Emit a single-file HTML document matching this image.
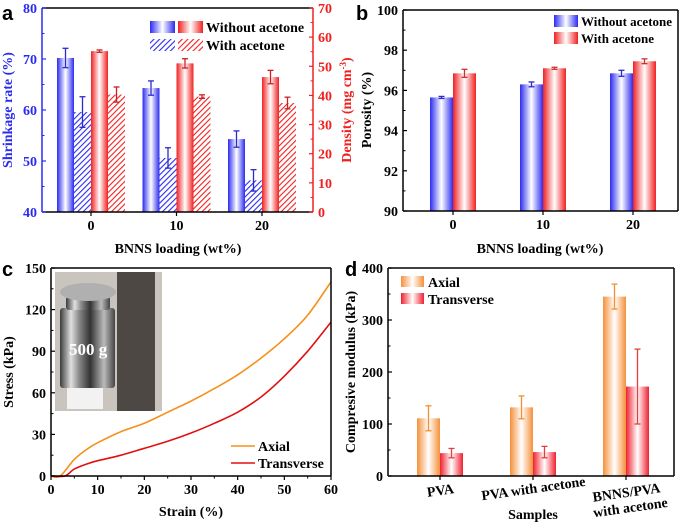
<!DOCTYPE html>
<html><head><meta charset="utf-8"><style>
body{margin:0;background:#fff}
svg{display:block;font-family:"Liberation Serif",serif;font-weight:bold}
.pl{font-family:"Liberation Sans",sans-serif;font-weight:bold;font-size:20px}
</style></head><body>
<svg id="fig" width="682" height="526" viewBox="0 0 682 526">
<defs>
<linearGradient id="gB" x1="0" x2="1"><stop offset="0" stop-color="#2b2bf0"/><stop offset="0.5" stop-color="#fff"/><stop offset="1" stop-color="#2b2bf0"/></linearGradient>
<linearGradient id="gR" x1="0" x2="1"><stop offset="0" stop-color="#f02020"/><stop offset="0.5" stop-color="#fff"/><stop offset="1" stop-color="#f02020"/></linearGradient>
<linearGradient id="gO" x1="0" x2="1"><stop offset="0" stop-color="#f5903a"/><stop offset="0.5" stop-color="#fff"/><stop offset="1" stop-color="#f5903a"/></linearGradient>
<linearGradient id="gT" x1="0" x2="1"><stop offset="0" stop-color="#f02030"/><stop offset="0.5" stop-color="#fff"/><stop offset="1" stop-color="#f02030"/></linearGradient>
<pattern id="hB" width="4" height="4" patternUnits="userSpaceOnUse" patternTransform="rotate(45)"><rect width="4" height="4" fill="#fff"/><line x1="0" y1="0" x2="0" y2="4" stroke="#2b2bf0" stroke-width="2.2"/></pattern>
<pattern id="hR" width="4" height="4" patternUnits="userSpaceOnUse" patternTransform="rotate(45)"><rect width="4" height="4" fill="#fff"/><line x1="0" y1="0" x2="0" y2="4" stroke="#f02020" stroke-width="2.2"/></pattern>
<linearGradient id="photo" x1="0" x2="1"><stop offset="0" stop-color="#3a3a3a"/><stop offset="0.2" stop-color="#e0e0e0"/><stop offset="0.35" stop-color="#888"/><stop offset="0.55" stop-color="#333"/><stop offset="0.8" stop-color="#bbb"/><stop offset="1" stop-color="#444"/></linearGradient>
</defs>
<g id="root"></g>
</svg>
<script>
// Panel a data
const aCats=["0","10","20"];
const aShrinkNo=[70.2,64.3,54.3], aShrinkNoErr=[1.9,1.4,1.6];
const aShrinkWith=[59.6,50.6,46.2], aShrinkWithErr=[3.0,2.0,2.1];
const aDensNo=[55.2,51.0,46.3], aDensNoErr=[0.4,1.6,2.3];
const aDensWith=[40.3,39.6,37.4], aDensWithErr=[2.6,0.6,2.0];
const aLeftTicks=[40,50,60,70,80], aRightTicks=[0,10,20,30,40,50,60,70];
// Panel b data
const bCats=["0","10","20"];
const bNo=[95.65,96.3,96.85], bNoErr=[0.05,0.12,0.15];
const bWith=[96.85,97.1,97.45], bWithErr=[0.2,0.05,0.12];
const bTicks=[90,92,94,96,98,100];
// Panel c data
const cStrainA=[0,2,5,8,10,15,20,25,30,35,40,45,50,55,60];
const cAxial=[0,0,12,20,24,32,38,46,54,63,73,85,99,116,140];
const cStrainT=[0,3,5,8,10,15,20,25,30,35,40,45,50,55,60];
const cTrans=[0,0,5,9,11,15,20,25,31,38,46,57,72,90,111];
const cXTicks=[0,10,20,30,40,50,60], cYTicks=[0,30,60,90,120,150];
// Panel d data
const dCats=["PVA","PVA with acetone","BNNS/PVA with acetone"];
const dAxial=[111,132,345], dAxialErr=[24,22,24];
const dTrans=[44,46,172], dTransErr=[9,11,72];
const dTicks=[0,100,200,300,400];

const NS="http://www.w3.org/2000/svg";
const root=document.getElementById('root');
function mk(tag,attrs,parent,txt){const e=document.createElementNS(NS,tag);for(const k in attrs)e.setAttribute(k,attrs[k]);if(txt!==undefined)e.textContent=txt;(parent||root).appendChild(e);return e;}
function lin(d0,d1,r0,r1){return v=>r0+(v-d0)/(d1-d0)*(r1-r0);}
function frame(g,x0,y0,x1,y1,colL,colR){
 mk('line',{x1:x0,y1:y0,x2:x1,y2:y0,stroke:'#000','stroke-width':1.5},g);
 mk('line',{x1:x0,y1:y1,x2:x1,y2:y1,stroke:'#000','stroke-width':1.5},g);
 mk('line',{x1:x0,y1:y0,x2:x0,y2:y1,stroke:colL||'#000','stroke-width':1.5},g);
 mk('line',{x1:x1,y1:y0,x2:x1,y2:y1,stroke:colR||'#000','stroke-width':1.5},g);
}
function yAxis(g,ticks,y,x,col,side){
 ticks.forEach((t,i)=>{const yy=y(t);
  const tk=mk('line',{x1:x,y1:yy,x2:x+(side>0?-4:4),y2:yy,stroke:col,'stroke-width':1.2},g);
  
  if(i<ticks.length-1){const ym=(yy+y(ticks[i+1]))/2;mk('line',{x1:x,y1:ym,x2:x+(side>0?-2.5:2.5),y2:ym,stroke:col,'stroke-width':1},g);}
  const lb=mk('text',{x:side>0?x+5:x-5,y:yy+5,'text-anchor':side>0?'start':'end','font-size':14,fill:col},g,String(t));
  
 });
}
function bar(g,x,w,y0,y1,fill,name){const r=mk('rect',{x:x,y:Math.min(y0,y1),width:w,height:Math.abs(y1-y0),fill:fill},g);return r;}
function err(g,cx,yT,yB,col){mk('line',{x1:cx,y1:yT,x2:cx,y2:yB,stroke:col,'stroke-width':1.3},g);mk('line',{x1:cx-3,y1:yT,x2:cx+3,y2:yT,stroke:col,'stroke-width':1.3},g);mk('line',{x1:cx-3,y1:yB,x2:cx+3,y2:yB,stroke:col,'stroke-width':1.3},g);}
function text(g,x,y,s,size,opts){const t=mk('text',Object.assign({x:x,y:y,'font-size':size},opts||{}),g,s);return t;}

// ---------- Panel a ----------
(function(){
 const g=mk('g',{});
 const X0=42,X1=313,Y0=8,Y1=212;
 const yL=lin(40,80,Y1,Y0), yR=lin(0,70,Y1,Y0);
 const xc=i=>91+i*(262-91)/2;
 const W=17;
 aCats.forEach((c,i)=>{const cx=xc(i);
  bar(g,cx-2*W,W,yL(40),yL(aShrinkNo[i]),'url(#gB)','bar-shrinkage-without');
  bar(g,cx-W,W,yL(40),yL(aShrinkWith[i]),'url(#hB)','bar-shrinkage-with');
  bar(g,cx,W,yR(0),yR(aDensNo[i]),'url(#gR)','bar-density-without');
  bar(g,cx+W,W,yR(0),yR(aDensWith[i]),'url(#hR)','bar-density-with');
  err(g,cx-1.5*W,yL(aShrinkNo[i]+aShrinkNoErr[i]),yL(aShrinkNo[i]-aShrinkNoErr[i]),'#2b2bcc');
  err(g,cx-0.5*W,yL(aShrinkWith[i]+aShrinkWithErr[i]),yL(aShrinkWith[i]-aShrinkWithErr[i]),'#2b2bcc');
  err(g,cx+0.5*W,yR(aDensNo[i]+aDensNoErr[i]),yR(aDensNo[i]-aDensNoErr[i]),'#cc2020');
  err(g,cx+1.5*W,yR(aDensWith[i]+aDensWithErr[i]),yR(aDensWith[i]-aDensWithErr[i]),'#cc2020');
  mk('line',{x1:cx,y1:Y1,x2:cx,y2:Y1+4,stroke:'#000','stroke-width':1.2},g);
  const t=text(g,cx,Y1+18,c,14,{'text-anchor':'middle'});
 });
 frame(g,X0,Y0,X1,Y1,'#2b2bf0','#f02020');
 yAxis(g,aLeftTicks,yL,X0,'#2b2bf0',-1);
 yAxis(g,aRightTicks,yR,X1,'#f02020',1);
 const lg=mk('g',{},g);
 mk('rect',{x:150,y:21,width:25,height:12,fill:'url(#gB)'},lg);mk('rect',{x:178,y:21,width:25,height:12,fill:'url(#gR)'},lg);
 mk('rect',{x:150,y:39,width:25,height:12,fill:'url(#hB)'},lg);mk('rect',{x:178,y:39,width:25,height:12,fill:'url(#hR)'},lg);
 text(lg,206,32,'Without acetone',14);text(lg,206,50,'With acetone',14);
 const yl=text(g,0,0,'Shrinkage rate (%)',14,{'text-anchor':'middle',fill:'#2b2bf0',transform:'translate(12,110) rotate(-90)'});
 const xl=text(g,178,253,'BNNS loading (wt%)',14,{'text-anchor':'middle'});
 const pl=text(g,2,20,'a',20,{class:'pl'});
})();
// right title of panel a
(function(){const t=text(root,0,0,'Density (mg cm',14,{'text-anchor':'middle',fill:'#f02020',transform:'translate(351,110) rotate(-90)'});
 mk('tspan',{'font-size':9,dy:-5},t,'-3');mk('tspan',{dy:5},t,')');
 })();

// ---------- Panel b ----------
(function(){
 const g=mk('g',{});
 const X0=403,X1=678,Y0=10,Y1=211;
 const y=lin(90,100,Y1,Y0);const xc=i=>453+i*(633-453)/2;const W=23;
 bCats.forEach((c,i)=>{const cx=xc(i);
  bar(g,cx-W,W,y(90),y(bNo[i]),'url(#gB)','bar-without-acetone');
  bar(g,cx,W,y(90),y(bWith[i]),'url(#gR)','bar-with-acetone');
  err(g,cx-W/2,y(bNo[i]+bNoErr[i]),y(bNo[i]-bNoErr[i]),'#2b2bcc');
  err(g,cx+W/2,y(bWith[i]+bWithErr[i]),y(bWith[i]-bWithErr[i]),'#cc3030');
  mk('line',{x1:cx,y1:Y1,x2:cx,y2:Y1+4,stroke:'#000','stroke-width':1.2},g);
  const t=text(g,cx,Y1+18,c,14,{'text-anchor':'middle'});
 });
 frame(g,X0,Y0,X1,Y1);
 yAxis(g,bTicks,y,X0,'#000',-1);
 const lg=mk('g',{},g);
 mk('rect',{x:554,y:15,width:24,height:12,fill:'url(#gB)'},lg);mk('rect',{x:554,y:32,width:24,height:12,fill:'url(#gR)'},lg);
 text(lg,581,26,'Without acetone',13,{textLength:91,lengthAdjust:'spacingAndGlyphs'});text(lg,581,43,'With acetone',13);
 const yl=text(g,0,0,'Porosity (%)',14,{'text-anchor':'middle',transform:'translate(371,110) rotate(-90)'});
 const xl=text(g,540,253,'BNNS loading (wt%)',14,{'text-anchor':'middle'});
 const pl=text(g,356,20,'b',20,{class:'pl'});
})();

// ---------- Panel c ----------
(function(){
 const g=mk('g',{});
 const X0=51,X1=331,Y0=268,Y1=476;
 const x=lin(0,60,X0,X1), y=lin(0,150,Y1,Y0);
 const ph=mk('g',{},g);
 mk('rect',{x:55,y:272,width:107,height:139,fill:'#c9c4bd'},ph);
 mk('rect',{x:117,y:272,width:38,height:139,fill:'#4d4843'},ph);
 mk('rect',{x:67,y:385,width:36,height:24,fill:'#f2f2f2'},ph);
 mk('rect',{x:60,y:308,width:55,height:80,fill:'url(#photo)',rx:3},ph);
 mk('rect',{x:66,y:296,width:44,height:14,fill:'url(#photo)',rx:3},ph);
 mk('ellipse',{cx:88,cy:292,rx:28,ry:9,fill:'#b0b0b0'},ph);
 text(ph,69,355,'500 g',17,{fill:'#fff'});
 function path(xs,ys,col,name){
  const P=xs.map((v,i)=>[x(v),y(ys[i])]);let d='M'+P[0][0].toFixed(1)+','+P[0][1].toFixed(1);
  for(let i=0;i<P.length-1;i++){const p0=P[Math.max(0,i-1)],p1=P[i],p2=P[i+1],p3=P[Math.min(P.length-1,i+2)];
   const c1=[p1[0]+(p2[0]-p0[0])/6,p1[1]+(p2[1]-p0[1])/6],c2=[p2[0]-(p3[0]-p1[0])/6,p2[1]-(p3[1]-p1[1])/6];
   d+='C'+c1.map(v=>v.toFixed(1)).join(',')+' '+c2.map(v=>v.toFixed(1)).join(',')+' '+p2.map(v=>v.toFixed(1)).join(',');}
  const p=mk('path',{d:d,fill:'none',stroke:col,'stroke-width':1.6,'stroke-linejoin':'round'},g);}
 path(cStrainA,cAxial,'#f5901a','line-axial');
 path(cStrainT,cTrans,'#e01010','line-transverse');
 frame(g,X0,Y0,X1,Y1);
 yAxis(g,cYTicks,y,X0,'#000',-1);
 cXTicks.forEach((t,i)=>{const xx=x(t);mk('line',{x1:xx,y1:Y1,x2:xx,y2:Y1+4,stroke:'#000','stroke-width':1.2},g);
  if(i<cXTicks.length-1){const xm=(xx+x(cXTicks[i+1]))/2;mk('line',{x1:xm,y1:Y1,x2:xm,y2:Y1+2.5,stroke:'#000'},g);}
  const lb=text(g,xx,Y1+18,String(t),14,{'text-anchor':'middle'});});
 const lg=mk('g',{},g);
 mk('line',{x1:231,y1:446,x2:255,y2:446,stroke:'#f5901a','stroke-width':1.6},lg);
 mk('line',{x1:231,y1:463,x2:255,y2:463,stroke:'#e01010','stroke-width':1.6},lg);
 text(lg,258,451,'Axial',14);text(lg,258,468,'Transverse',14);
 const yl=text(g,0,0,'Stress (kPa)',14,{'text-anchor':'middle',transform:'translate(13,372) rotate(-90)'});
 const xl=text(g,191,516,'Strain (%)',14,{'text-anchor':'middle'});
 const pl=text(g,2,276,'c',20,{class:'pl'});
})();

// ---------- Panel d ----------
(function(){
 const g=mk('g',{});
 const X0=388,X1=674,Y0=268,Y1=476;
 const y=lin(0,400,Y1,Y0);const xc=i=>440+i*(626-440)/2;const W=23;
 dCats.forEach((c,i)=>{const cx=xc(i);
  bar(g,cx-W,W,y(0),y(dAxial[i]),'url(#gO)','bar-axial');
  bar(g,cx,W,y(0),y(dTrans[i]),'url(#gT)','bar-transverse');
  err(g,cx-W/2,y(dAxial[i]+dAxialErr[i]),y(dAxial[i]-dAxialErr[i]),'#f09030');
  err(g,cx+W/2,y(dTrans[i]+dTransErr[i]),y(dTrans[i]-dTransErr[i]),'#e04040');
  mk('line',{x1:cx,y1:Y1,x2:cx,y2:Y1+4,stroke:'#000','stroke-width':1.2},g);
 });
 const l1=text(g,0,0,dCats[0],14,{'text-anchor':'middle',transform:'translate(441,495) rotate(-8)'});
 const l2=text(g,0,0,dCats[1],14,{'text-anchor':'middle',transform:'translate(534,493) rotate(-8)'});
 const p3=dCats[2].split(' with ');
 const l3=text(g,0,0,p3[0],14,{'text-anchor':'middle',transform:'translate(627,497) rotate(-8)'});
 const l4=text(g,0,0,'with '+p3[1],14,{'text-anchor':'middle',transform:'translate(631,512) rotate(-8)'});
 frame(g,X0,Y0,X1,Y1);
 yAxis(g,dTicks,y,X0,'#000',-1);
 const lg=mk('g',{},g);
 mk('rect',{x:401,y:276,width:23,height:11,fill:'url(#gO)'},lg);mk('rect',{x:401,y:293,width:23,height:11,fill:'url(#gT)'},lg);
 text(lg,428,287,'Axial',14);text(lg,428,304,'Transverse',14);
 const yl=text(g,0,0,'Compresive modulus (kPa)',14,{'text-anchor':'middle',transform:'translate(355,372) rotate(-90)'});
 const xl=text(g,533,519,'Samples',14,{'text-anchor':'middle'});
 const pl=text(g,345,276,'d',20,{class:'pl'});
})();
</script>
</body></html>
